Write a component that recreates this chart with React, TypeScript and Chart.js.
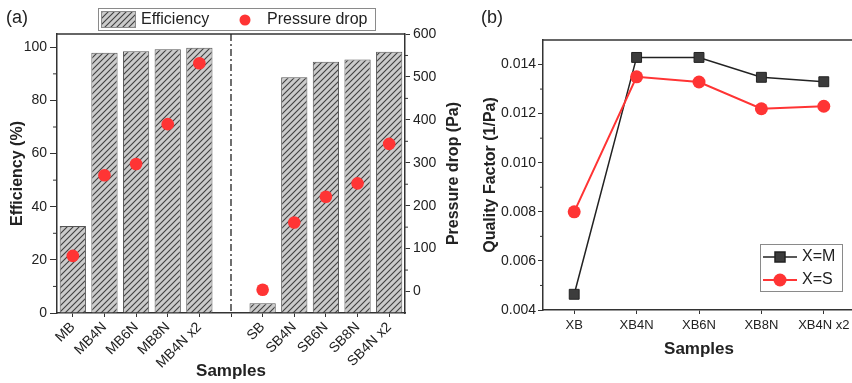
import React, { useEffect, useRef } from "react";
import { Chart, registerables } from "chart.js";

Chart.register(...registerables);

// ---------- Panel (a) data ----------
const samplesA = ["MB", "MB4N", "MB6N", "MB8N", "MB4N x2", "", "SB", "SB4N", "SB6N", "SB8N", "SB4N x2"];
const efficiency = [32.7, 97.9, 98.5, 99.3, 99.8, null, 3.7, 88.7, 94.6, 95.4, 98.3];
const pressureDrop = [83, 271, 297, 390, 532, null, 4, 161, 221, 252, 344];
const effTicks = [0, 20, 40, 60, 80, 100];
const effMinor = [10, 30, 50, 70, 90];
const pdTicks = [0, 100, 200, 300, 400, 500, 600];
const pdMinor = [50, 150, 250, 350, 450, 550];

// ---------- Panel (b) data ----------
const samplesB = ["XB", "XB4N", "XB6N", "XB8N", "XB4N x2"];
const qfM = [0.00464, 0.01429, 0.01429, 0.01348, 0.01330];
const qfS = [0.0080, 0.01350, 0.01329, 0.01220, 0.01230];
const qfTicks = [0.004, 0.006, 0.008, 0.01, 0.012, 0.014];
const qfMinor = [0.005, 0.007, 0.009, 0.011, 0.013];

const FONT = "'Liberation Sans', Arial, sans-serif";
const AXIS = "#333";
const TXT = "#222";
const RED = "#ff3434";

Chart.defaults.font.family = FONT;
Chart.defaults.color = TXT;

function makeHatch(ctx: CanvasRenderingContext2D) {
  const p = document.createElement("canvas");
  p.width = 6;
  p.height = 6;
  const c = p.getContext("2d")!;
  c.fillStyle = "#cbcbcb";
  c.fillRect(0, 0, 6, 6);
  c.strokeStyle = "#3f3f3f";
  c.lineWidth = 1.1;
  c.beginPath();
  c.moveTo(0, 6);
  c.lineTo(6, 0);
  c.moveTo(-1, 1);
  c.lineTo(1, -1);
  c.moveTo(5, 7);
  c.lineTo(7, 5);
  c.stroke();
  return ctx.createPattern(p, "repeat")!;
}

function line(ctx: CanvasRenderingContext2D, x1: number, y1: number, x2: number, y2: number) {
  ctx.beginPath();
  ctx.moveTo(x1, y1);
  ctx.lineTo(x2, y2);
  ctx.stroke();
}

export default function App() {
  const refA = useRef<HTMLCanvasElement>(null);
  const refB = useRef<HTMLCanvasElement>(null);

  useEffect(() => {
    const ctxA = refA.current!.getContext("2d")!;
    const hatch = makeHatch(ctxA);

    const decorA = {
      id: "decorA",
      afterDraw(chart: any) {
        const { ctx, chartArea, scales } = chart;
        const { left, right, top, bottom } = chartArea;
        ctx.save();
        ctx.strokeStyle = AXIS;
        ctx.lineWidth = 1.5;
        line(ctx, left, top, right, top);
        ctx.lineWidth = 1;
        effMinor.forEach((v) => {
          const py = scales.y.getPixelForValue(v);
          line(ctx, left - 4, py, left, py);
        });
        pdMinor.forEach((v) => {
          const py = scales.y1.getPixelForValue(v);
          line(ctx, right, py, right + 3, py);
        });
        // dash-dot separator
        const px = scales.x.getPixelForValue(5);
        ctx.setLineDash([7, 3, 2, 3]);
        ctx.lineWidth = 1.3;
        ctx.strokeStyle = "#222";
        line(ctx, px, top, px, bottom);
        ctx.setLineDash([]);
        // right axis title (reads bottom to top)
        ctx.save();
        ctx.translate(454, (top + bottom) / 2);
        ctx.rotate(-Math.PI / 2);
        ctx.fillStyle = TXT;
        ctx.font = `bold 16px ${FONT}`;
        ctx.textAlign = "center";
        ctx.textBaseline = "middle";
        ctx.fillText("Pressure drop (Pa)", 0, 0);
        ctx.restore();
        // panel label
        ctx.fillStyle = TXT;
        ctx.font = `18px ${FONT}`;
        ctx.textAlign = "left";
        ctx.textBaseline = "middle";
        ctx.fillText("(a)", 6, 18);
        // legend
        ctx.strokeStyle = "#8a8a8a";
        ctx.lineWidth = 1;
        ctx.strokeRect(98.5, 8.5, 277, 22);
        ctx.fillStyle = hatch;
        ctx.fillRect(101, 11, 35, 17);
        ctx.strokeRect(101.5, 11.5, 34, 16);
        ctx.fillStyle = TXT;
        ctx.font = `16px ${FONT}`;
        ctx.fillText("Efficiency", 141, 20);
        ctx.fillStyle = RED;
        ctx.beginPath();
        ctx.arc(245, 20, 5.5, 0, Math.PI * 2);
        ctx.fill();
        ctx.fillStyle = TXT;
        ctx.fillText("Pressure drop", 267, 20);
        ctx.restore();
      },
    };

    const chartA = new Chart(ctxA, {
      type: "bar",
      data: {
        labels: samplesA,
        datasets: [
          {
            type: "bar",
            label: "Efficiency",
            data: efficiency,
            backgroundColor: hatch,
            borderColor: "#555",
            borderWidth: 1,
            barPercentage: 0.83,
            categoryPercentage: 1,
            yAxisID: "y",
            order: 2,
          } as any,
          {
            type: "line",
            label: "Pressure drop",
            data: pressureDrop,
            showLine: false,
            pointRadius: 6.3,
            pointBackgroundColor: RED,
            pointBorderColor: RED,
            pointBorderWidth: 0,
            yAxisID: "y1",
            order: 1,
          } as any,
        ],
      },
      options: {
        responsive: false,
        animation: false,
        events: [],
        layout: { padding: { top: 34, left: 0, right: 0, bottom: 0 } },
        plugins: { legend: { display: false }, tooltip: { enabled: false } },
        scales: {
          x: {
            type: "category",
            offset: true,
            grid: { display: true, drawOnChartArea: false, drawTicks: true, tickLength: 4, offset: false, color: AXIS },
            border: { display: true, color: AXIS, width: 1.5 },
            ticks: { minRotation: 45, maxRotation: 45, autoSkip: false, font: { size: 14 }, color: TXT, padding: 2 },
            title: { display: true, text: "Samples", font: { size: 17, weight: "bold" }, color: TXT, padding: { top: 0, bottom: 1 } },
            afterFit: (s: any) => { s.height = 70; },
          },
          y: {
            position: "left",
            min: 0,
            max: 105,
            afterBuildTicks: (s: any) => { s.ticks = effTicks.map((v) => ({ value: v })); },
            grid: { drawOnChartArea: false, drawTicks: true, tickLength: 7, color: AXIS },
            border: { display: true, color: AXIS, width: 1.5 },
            ticks: { font: { size: 14 }, color: TXT, padding: 3 },
            title: { display: true, text: "Efficiency (%)", font: { size: 16, weight: "bold" }, color: TXT, padding: { top: 8, bottom: 0 } },
            afterFit: (s: any) => { s.width = 57; },
          },
          y1: {
            position: "right",
            min: -50,
            max: 600,
            afterBuildTicks: (s: any) => { s.ticks = pdTicks.map((v) => ({ value: v })); },
            grid: { drawOnChartArea: false, drawTicks: true, tickLength: 5, color: AXIS },
            border: { display: true, color: AXIS, width: 1.5 },
            ticks: { font: { size: 14 }, color: TXT, padding: 3 },
            title: { display: false },
            afterFit: (s: any) => { s.width = 60; },
          },
        },
      } as any,
      plugins: [decorA],
    });

    const ctxB = refB.current!.getContext("2d")!;
    const decorB = {
      id: "decorB",
      afterDraw(chart: any) {
        const { ctx, chartArea, scales } = chart;
        const { left, right, top } = chartArea;
        ctx.save();
        ctx.strokeStyle = AXIS;
        ctx.lineWidth = 1.5;
        line(ctx, left, top, right, top);
        ctx.lineWidth = 1;
        qfMinor.forEach((v) => {
          const py = scales.y.getPixelForValue(v);
          line(ctx, left - 3, py, left, py);
        });
        ctx.fillStyle = TXT;
        ctx.font = `18px ${FONT}`;
        ctx.textAlign = "left";
        ctx.textBaseline = "middle";
        ctx.fillText("(b)", 16, 18);
        // legend
        const lx = 760 - 465;
        ctx.strokeStyle = "#8a8a8a";
        ctx.lineWidth = 1;
        ctx.strokeRect(lx + 0.5, 244.5, 82, 47);
        ctx.font = `16px ${FONT}`;
        // X=M
        ctx.strokeStyle = "#222";
        ctx.lineWidth = 1.5;
        line(ctx, lx + 3, 257, lx + 37, 257);
        ctx.fillStyle = "#3c3c3c";
        ctx.fillRect(lx + 15, 252, 10, 10);
        ctx.strokeRect(lx + 15, 252, 10, 10);
        ctx.fillStyle = TXT;
        ctx.fillText("X=M", lx + 42, 257);
        // X=S
        ctx.strokeStyle = RED;
        ctx.lineWidth = 2;
        line(ctx, lx + 3, 280, lx + 37, 280);
        ctx.fillStyle = RED;
        ctx.beginPath();
        ctx.arc(lx + 20, 280, 6.5, 0, Math.PI * 2);
        ctx.fill();
        ctx.fillStyle = TXT;
        ctx.fillText("X=S", lx + 42, 280);
        ctx.restore();
      },
    };

    const chartB = new Chart(ctxB, {
      type: "line",
      data: {
        labels: samplesB,
        datasets: [
          {
            label: "X=M",
            data: qfM,
            borderColor: "#222",
            backgroundColor: "#3c3c3c",
            borderWidth: 1.5,
            pointStyle: "rect",
            pointRadius: 7,
            pointBorderColor: "#222",
            pointBorderWidth: 1,
            pointBackgroundColor: "#3c3c3c",
            order: 1,
          },
          {
            label: "X=S",
            data: qfS,
            borderColor: RED,
            backgroundColor: RED,
            borderWidth: 2,
            pointStyle: "circle",
            pointRadius: 6.5,
            pointBorderWidth: 0,
            pointBackgroundColor: RED,
            order: 0,
          },
        ],
      },
      options: {
        responsive: false,
        animation: false,
        events: [],
        layout: { padding: { top: 40, left: 0, right: 10, bottom: 0 } },
        plugins: { legend: { display: false }, tooltip: { enabled: false } },
        scales: {
          x: {
            type: "category",
            offset: true,
            grid: { display: true, drawOnChartArea: false, drawTicks: true, tickLength: 4, offset: false, color: AXIS },
            border: { display: true, color: AXIS, width: 1.5 },
            ticks: { autoSkip: false, maxRotation: 0, minRotation: 0, font: { size: 13 }, color: TXT, padding: 4 },
            title: { display: true, text: "Samples", font: { size: 17, weight: "bold" }, color: TXT, padding: { top: 0, bottom: 23 } },
            afterFit: (s: any) => { s.height = 73; },
          },
          y: {
            min: 0.004,
            max: 0.015,
            afterBuildTicks: (s: any) => { s.ticks = qfTicks.map((v) => ({ value: v })); },
            grid: { drawOnChartArea: false, drawTicks: true, tickLength: 5, color: AXIS },
            border: { display: true, color: AXIS, width: 1.5 },
            ticks: { font: { size: 14 }, color: TXT, padding: 2, callback: (v: any) => Number(v).toFixed(3) },
            title: { display: true, text: "Quality Factor (1/Pa)", font: { size: 16, weight: "bold" }, color: TXT, padding: { top: 16, bottom: 0 } },
            afterFit: (s: any) => { s.width = 78; },
          },
        },
      } as any,
      plugins: [decorB],
    });

    return () => {
      chartA.destroy();
      chartB.destroy();
    };
  }, []);

  return (
    <div style={{ position: "fixed", left: 0, top: 0, width: 852, height: 383, overflow: "hidden", background: "#fff" }}>
      <canvas ref={refA} width={465} height={383} style={{ position: "absolute", left: 0, top: 0, width: 465, height: 383 }} />
      <canvas ref={refB} width={400} height={383} style={{ position: "absolute", left: 465, top: 0, width: 400, height: 383 }} />
    </div>
  );
}
